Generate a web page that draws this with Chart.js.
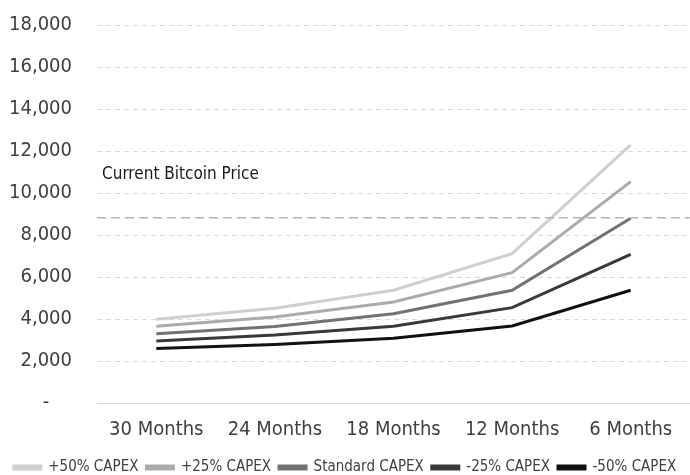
<!DOCTYPE html>
<html>
<head>
<meta charset="utf-8">
<script src="https://cdn.jsdelivr.net/npm/chart.js@4"></script>
<style>
html,body{margin:0;padding:0;background:#fff;}
#wrap{width:690px;height:475px;position:relative;}
</style>
</head>
<body>
<div id="wrap"><canvas id="c"></canvas></div>
<script>
const categories = ['30 Months', '24 Months', '18 Months', '12 Months', '6 Months'];
const seriesNames = ['+50% CAPEX', '+25% CAPEX', 'Standard CAPEX', '-25% CAPEX', '-50% CAPEX'];
const plus50 = [3990, 4510, 5370, 7110, 12290];
const plus25 = [3650, 4100, 4810, 6210, 10540];
const standard = [3300, 3640, 4250, 5370, 8800];
const minus25 = [2950, 3240, 3660, 4540, 7080];
const minus50 = [2600, 2790, 3080, 3670, 5370];
const currentPrice = 8820;
const currentPriceLabel = 'Current Bitcoin Price';
const yTicks = [0, 2000, 4000, 6000, 8000, 10000, 12000, 14000, 16000, 18000];
const colors = ['#d0cece', '#aeaaaa', '#767171', '#3a3838', '#111111'];
const FONT = "'DejaVu Sans Condensed', 'DejaVu Sans', sans-serif";

const allSeries = [plus50, plus25, standard, minus25, minus50];

const priceLinePlugin = {
  id: 'priceLine',
  afterDatasetsDraw(chart) {
    const {ctx, chartArea, scales} = chart;
    const y = scales.y.getPixelForValue(currentPrice);
    ctx.save();
    ctx.strokeStyle = '#b4b4b4';
    ctx.lineWidth = 1.6;
    ctx.setLineDash([9, 5]);
    ctx.beginPath();
    ctx.moveTo(chartArea.left, y);
    ctx.lineTo(chartArea.right, y);
    ctx.stroke();
    ctx.setLineDash([]);
    ctx.fillStyle = '#1a1a1a';
    ctx.font = "17px " + FONT;
    ctx.textBaseline = 'alphabetic';
    ctx.fillText(currentPriceLabel, chartArea.left + 5, y - 39);
    ctx.restore();
  }
};

new Chart(document.getElementById('c'), {
  type: 'line',
  data: {
    labels: categories,
    datasets: allSeries.map((d, i) => ({
      label: seriesNames[i],
      data: d,
      borderColor: colors[i],
      backgroundColor: colors[i],
      borderWidth: 3,
      pointRadius: 0,
      tension: 0,
      fill: false
    }))
  },
  options: {
    responsive: true,
    maintainAspectRatio: false,
    animation: false,
    layout: {padding: {top: 25, right: 0, left: 0, bottom: -10}},
    plugins: {
      legend: {
        position: 'bottom',
        labels: {
          font: {family: FONT, size: 15},
          color: '#404040',
          boxWidth: 27,
          boxHeight: 3,
          padding: 8
        }
      },
      tooltip: {enabled: false}
    },
    scales: {
      x: {
        offset: true,
        grid: {display: false, drawTicks: false},
        border: {display: true, color: '#d9d9d9', width: 1},
        afterFit(scale) { scale.height -= 5; },
        ticks: {font: {family: FONT, size: 20}, color: '#404040', padding: 15, maxRotation: 0}
      },
      y: {
        min: 0,
        max: 18000,
        afterBuildTicks(scale) { scale.ticks = yTicks.map(v => ({value: v})); },
        afterFit(scale) { scale.width = 97; scale.paddingTop = 0; scale.paddingBottom = 0; },
        grid: {
          color: ctx => ctx.tick && ctx.tick.value === 0 ? 'rgba(0,0,0,0)' : '#d9d9d9',
          drawTicks: false,
          lineWidth: 1
        },
        border: {display: false, dash: [5, 4]},
        ticks: {
          font: {family: FONT, size: 20},
          color: '#404040',
          padding: 25,
          callback: v => v === 0 ? '-    ' : v.toLocaleString('en-US')
        }
      }
    }
  },
  plugins: [priceLinePlugin]
});
</script>
</body>
</html>
